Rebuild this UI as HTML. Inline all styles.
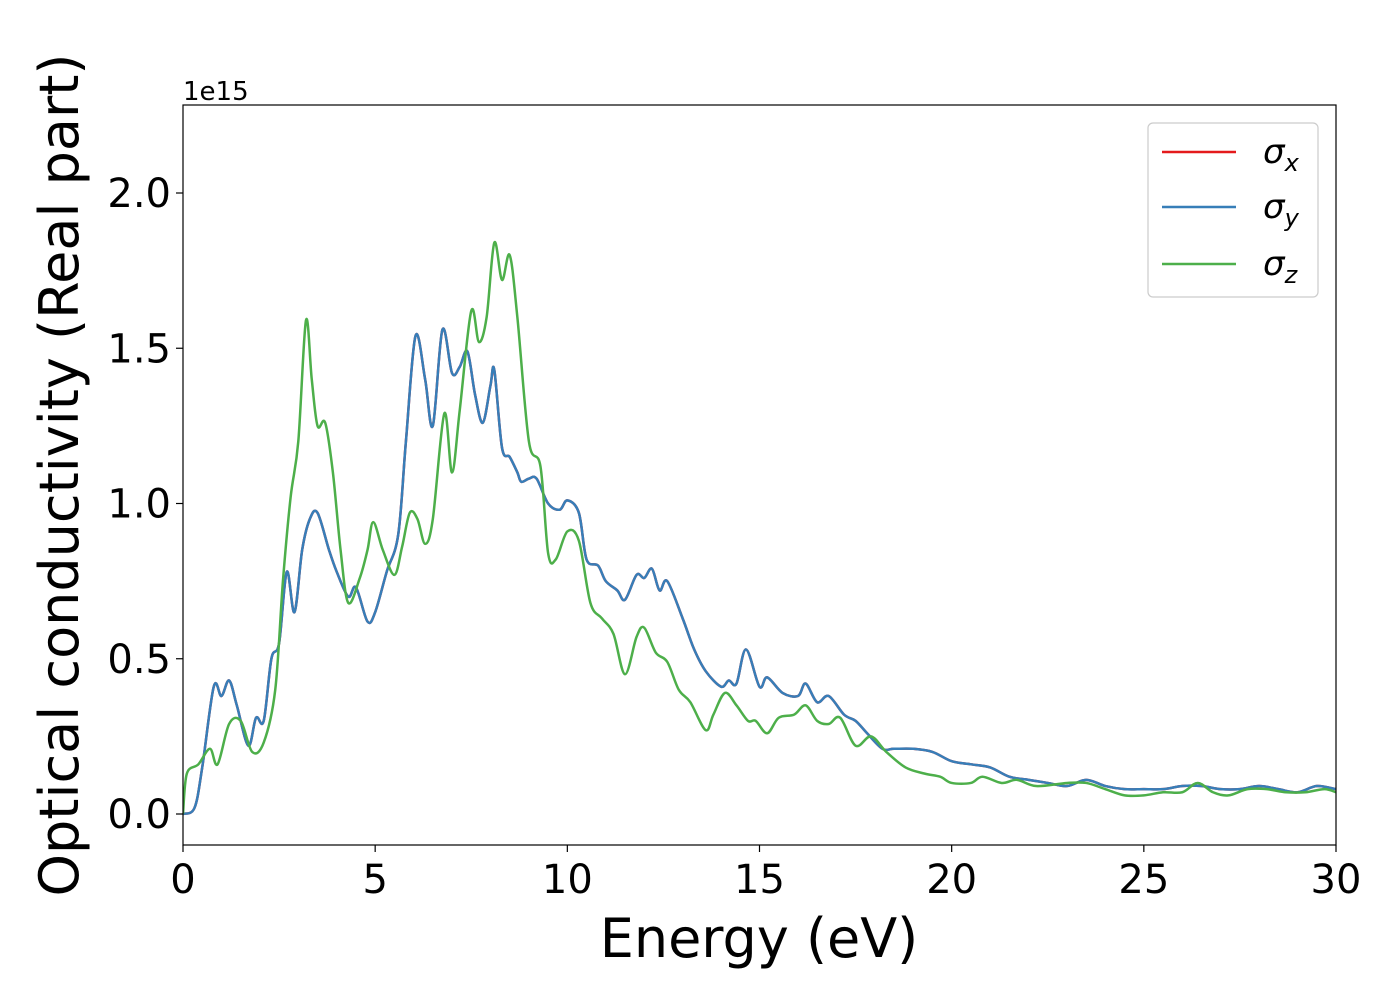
<!DOCTYPE html>
<html><head><meta charset="utf-8"><style>
body{margin:0;background:#fff;}
text{font-family:"DejaVu Sans","Liberation Sans",sans-serif;}
</style></head><body>
<svg width="1400" height="1000" xmlns="http://www.w3.org/2000/svg">
<rect width="1400" height="1000" fill="#fff"/>
<g id="plot"></g>
<g id="axes"></g>
</svg>
<script>
const sigmaX = [0,0.3,0.5,0.8,1.0,1.2,1.4,1.7,1.9,2.1,2.3,2.5,2.7,2.9,3.1,3.3,3.5,3.8,4.0,4.3,4.5,4.8,5.0,5.3,5.6,5.8,6.05,6.3,6.5,6.75,7.0,7.2,7.4,7.6,7.8,8.0,8.1,8.3,8.5,8.7,8.8,9.0,9.2,9.5,9.8,10.0,10.3,10.5,10.8,11.0,11.3,11.5,11.8,12.0,12.2,12.4,12.6,13.0,13.3,13.6,14.0,14.2,14.4,14.65,15.0,15.2,15.6,16.0,16.2,16.5,16.8,17.2,17.5,17.8,18.2,18.5,19.0,19.5,20.0,20.5,21.0,21.5,22.0,22.5,23.0,23.5,24.0,24.5,25,25.5,26,26.5,27,27.5,28,28.5,29,29.5,30];
const sigmaY = [0,0.02,0.15,0.41,0.38,0.43,0.35,0.22,0.31,0.30,0.50,0.55,0.78,0.65,0.85,0.95,0.97,0.85,0.78,0.70,0.73,0.62,0.65,0.78,0.90,1.20,1.54,1.40,1.25,1.56,1.42,1.44,1.49,1.35,1.26,1.38,1.43,1.18,1.15,1.10,1.07,1.08,1.08,1.00,0.98,1.01,0.97,0.82,0.80,0.75,0.72,0.69,0.77,0.76,0.79,0.72,0.75,0.63,0.53,0.46,0.41,0.43,0.42,0.53,0.41,0.44,0.39,0.38,0.42,0.36,0.38,0.32,0.30,0.26,0.21,0.21,0.21,0.20,0.17,0.16,0.15,0.12,0.11,0.10,0.09,0.11,0.09,0.08,0.08,0.08,0.09,0.09,0.08,0.08,0.09,0.08,0.07,0.09,0.08];
const zE = [0,0.1,0.4,0.7,0.9,1.2,1.5,1.8,2.1,2.4,2.6,2.8,3.0,3.2,3.35,3.5,3.7,3.9,4.1,4.3,4.6,4.8,4.95,5.2,5.5,5.7,5.9,6.1,6.3,6.5,6.8,7.0,7.2,7.5,7.7,7.9,8.1,8.3,8.5,8.7,9.0,9.3,9.5,9.7,10.0,10.3,10.6,10.9,11.2,11.5,11.8,12.0,12.3,12.6,12.9,13.2,13.6,13.8,14.1,14.4,14.7,14.9,15.2,15.5,15.9,16.2,16.5,16.8,17.1,17.5,17.9,18.3,18.8,19.3,19.7,20.0,20.5,20.8,21.3,21.7,22.2,23.0,23.5,24.0,24.5,25,25.5,26,26.4,26.8,27.2,27.7,28.2,28.7,29.2,29.7,30];
const sigmaZ = [0,0.13,0.16,0.21,0.16,0.29,0.30,0.20,0.23,0.40,0.75,1.02,1.20,1.59,1.40,1.25,1.26,1.10,0.85,0.68,0.76,0.85,0.94,0.85,0.77,0.86,0.97,0.95,0.87,0.95,1.29,1.10,1.30,1.62,1.52,1.60,1.84,1.72,1.80,1.60,1.20,1.12,0.84,0.82,0.91,0.88,0.68,0.63,0.58,0.45,0.57,0.60,0.52,0.49,0.40,0.36,0.27,0.32,0.39,0.35,0.30,0.30,0.26,0.31,0.32,0.35,0.30,0.29,0.31,0.22,0.25,0.20,0.15,0.13,0.12,0.10,0.10,0.12,0.10,0.11,0.09,0.10,0.10,0.08,0.06,0.06,0.07,0.07,0.10,0.07,0.06,0.08,0.08,0.07,0.07,0.08,0.07];
const xTicks = [0,5,10,15,20,25,30];
const yTicks = [0.0,0.5,1.0,1.5,2.0];
const yTickLabels = ["0.0","0.5","1.0","1.5","2.0"];

const L=183,R=1336,T=105,B=845;
const xs = v => L + (v-0)/(30-0)*(R-L);
const ys = v => 814 - v*310.5;
const NS="http://www.w3.org/2000/svg";
function mk(tag, attrs, parent){const e=document.createElementNS(NS,tag);for(const k in attrs)e.setAttribute(k,attrs[k]);parent.appendChild(e);return e;}
function smoothPath(X,Y){
  const p=X.map((x,i)=>[xs(x),ys(Y[i])]);
  let d="M"+p[0][0]+","+p[0][1];
  for(let i=0;i<p.length-1;i++){
    const p0=p[Math.max(0,i-1)],p1=p[i],p2=p[i+1],p3=p[Math.min(p.length-1,i+2)];
    const c1=[p1[0]+(p2[0]-p0[0])/6,p1[1]+(p2[1]-p0[1])/6];
    const c2=[p2[0]-(p3[0]-p1[0])/6,p2[1]-(p3[1]-p1[1])/6];
    d+=" C"+c1[0]+","+c1[1]+" "+c2[0]+","+c2[1]+" "+p2[0]+","+p2[1];
  }
  return d;
}
const plot=document.getElementById('plot');
const axes=document.getElementById('axes');
mk('clipPath',{id:'clip'},plot).appendChild(Object.assign(document.createElementNS(NS,'rect'),{})).setAttribute('x',L);
const cr=plot.querySelector('clipPath rect');cr.setAttribute('y',T);cr.setAttribute('width',R-L);cr.setAttribute('height',B-T);
const g=mk('g',{'clip-path':'url(#clip)'},plot);
let e;
e=mk('path',{d:smoothPath(sigmaX,sigmaY),fill:'none',stroke:'#e41a1c','stroke-width':2.5},g);


e=mk('path',{d:smoothPath(sigmaX,sigmaY),fill:'none',stroke:'#377eb8','stroke-width':2.5},g);


e=mk('path',{d:smoothPath(zE,sigmaZ),fill:'none',stroke:'#4daf4a','stroke-width':2.5},g);



e=mk('rect',{x:L,y:T,width:R-L,height:B-T,fill:'none',stroke:'#000','stroke-width':1.2},axes);


xTicks.forEach(t=>{
  mk('line',{x1:xs(t),x2:xs(t),y1:B,y2:B+7,stroke:'#000','stroke-width':1.2},axes);
  e=mk('text',{x:xs(t),y:B+48,'font-size':40,'text-anchor':'middle'},axes);e.textContent=t;
  
  
});
yTicks.forEach((t,i)=>{
  mk('line',{x1:L-7,x2:L,y1:ys(t),y2:ys(t),stroke:'#000','stroke-width':1.2},axes);
  e=mk('text',{x:L-12,y:ys(t)+14,'font-size':40,'text-anchor':'end'},axes);e.textContent=yTickLabels[i];
  
  
});
e=mk('text',{x:183,y:100,'font-size':26},axes);e.textContent='1e15';


e=mk('text',{x:759,y:957,'font-size':54,'text-anchor':'middle'},axes);e.textContent='Energy (eV)';


e=mk('text',{x:0,y:0,'font-size':54,'text-anchor':'middle',transform:'translate(78,475) rotate(-90)'},axes);e.textContent='Optical conductivity (Real part)';



const lg=mk('g',{},axes);


mk('rect',{x:1148,y:123,width:170,height:174,rx:5,fill:'#fff',stroke:'#ccc','stroke-width':1.2},lg);
const cols=['#e41a1c','#377eb8','#4daf4a'],subs=['x','y','z'],ly=[152,207,264];
cols.forEach((c,i)=>{
  mk('line',{x1:1162,x2:1236,y1:ly[i],y2:ly[i],stroke:c,'stroke-width':2.5},lg);
  const t=mk('text',{x:1263,y:ly[i]+11,'font-size':34,'font-style':'italic'},lg);
  
  
  t.innerHTML='σ<tspan font-size="24" dy="8">'+subs[i]+'</tspan>';
});
</script>
</body></html>
